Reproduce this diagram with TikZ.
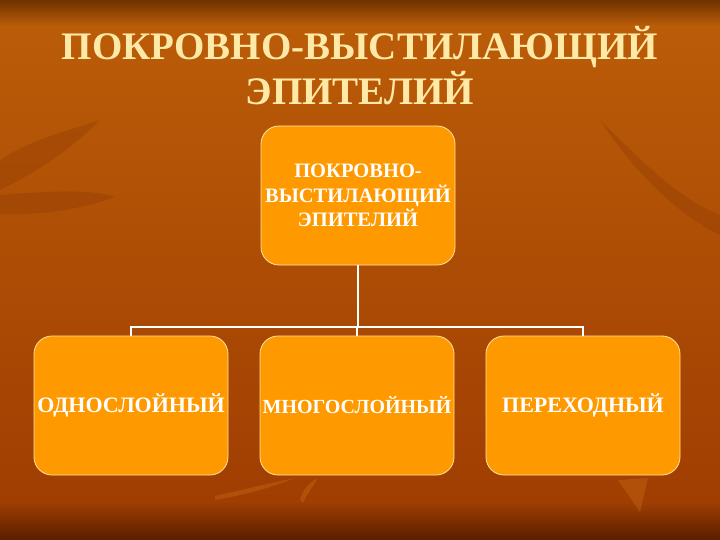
\documentclass[tikz,border=0pt]{standalone}
\usepackage{fontspec}
\setmainfont{Liberation Serif}
\definecolor{bgtop}{HTML}{6E3300}
\definecolor{bgmid}{HTML}{BA5C08}
\definecolor{bglow}{HTML}{A03E02}
\definecolor{bgbot}{HTML}{5A1E00}
\definecolor{leafdark}{HTML}{8E3A04}
\definecolor{leaflight}{HTML}{D07018}
\definecolor{boxfill}{HTML}{FF9900}
\definecolor{boxedge}{HTML}{FFE3A0}
\definecolor{titlecol}{HTML}{FFE9A6}
\tikzset{
  orgbox/.style={draw=boxedge, line width=0.8pt, fill=boxfill, rounded corners=18pt,
    minimum width=194pt, minimum height=139pt, inner sep=0pt, align=center,
    text=white},
  toptext/.style={font=\fontsize{20.5}{24.5}\selectfont\bfseries},
  bottext/.style={font=\fontsize{22}{26}\selectfont\bfseries},
  midtext/.style={font=\fontsize{20}{26}\selectfont\bfseries},
  link/.style={draw=white, line width=1.6pt},
  ttl/.style={font=\fontsize{39}{45}\selectfont\bfseries, text=titlecol, align=center}
}
\begin{document}
\begin{tikzpicture}[x=1pt,y=-1pt]
\useasboundingbox (0,0) rectangle (720,540);
\shade[top color=bgtop, bottom color=bgmid] (0,0) rectangle (720,26);
\shade[top color=bgmid, bottom color=bglow] (0,25.5) rectangle (720,502);
\shade[top color=bglow, bottom color=bgbot] (0,501.5) rectangle (720,540);
% faint leaf shapes
\begin{scope}[opacity=0.35]
\fill[leafdark] (0,195) .. controls (40,192) and (90,188) .. (115,197) .. controls (80,210) and (40,215) .. (0,214) -- cycle;
\fill[leafdark] (0,160) .. controls (30,140) and (70,130) .. (100,120) .. controls (70,150) and (40,170) .. (0,190) -- cycle;
\fill[leaflight] (215,496) .. controls (250,488) and (275,482) .. (295,478) .. controls (275,486) and (250,494) .. (215,500) -- cycle;
\fill[leaflight] (300,500) .. controls (302,490) and (310,482) .. (318,478) .. controls (312,488) and (306,496) .. (303,503) -- cycle;
\fill[leaflight] (618,480) -- (648,478) -- (640,512) -- cycle;
\fill[leafdark] (600,120) .. controls (640,160) and (680,200) .. (720,215) -- (720,235) .. controls (680,215) and (640,180) .. (600,120) -- cycle;
\end{scope}
\node[ttl] (title) at (360,66) {ПОКРОВНО-ВЫСТИЛАЮЩИЙ\\ЭПИТЕЛИЙ};
\node[orgbox, toptext] (top) at (358,195.5) {ПОКРОВНО-\\ВЫСТИЛАЮЩИЙ\\ЭПИТЕЛИЙ};
\node[orgbox, bottext] (b1) at (131,405.5) {ОДНОСЛОЙНЫЙ};
\node[orgbox, midtext] (b2) at (357,405.5) {МНОГОСЛОЙНЫЙ};
\node[orgbox, bottext] (b3) at (583,405.5) {ПЕРЕХОДНЫЙ};
\coordinate (hub) at (358,327);
\draw[link] (top.south) -- (hub);
\draw[link] (b1.north) |- (hub);
\draw[link] (b3.north) |- (hub);
\draw[link] (b2.north) -- (b2.north |- hub);
\end{tikzpicture}
\end{document}
